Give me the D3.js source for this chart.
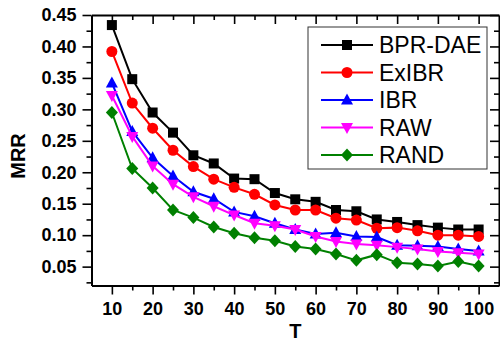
<!DOCTYPE html>
<html>
<head>
<meta charset="utf-8">
<script src="https://cdn.jsdelivr.net/npm/d3@7"></script>
<style>
  body { margin: 0; background: #fff; }
  text { font-family: Arial, "Liberation Sans", sans-serif; }
</style>
</head>
<body>
<svg id="chart" width="500" height="343"></svg>
<script>
// x values (T)
const tValues = [10, 15, 20, 25, 30, 35, 40, 45, 50, 55, 60, 65, 70, 75, 80, 85, 90, 95, 100];

// MRR per method
const bprDae = [0.434, 0.348, 0.295, 0.263, 0.227, 0.214, 0.190, 0.189, 0.167, 0.157, 0.153, 0.140, 0.138, 0.125, 0.121, 0.116, 0.112, 0.109, 0.109];
const exIbr  = [0.392, 0.310, 0.270, 0.235, 0.209, 0.189, 0.176, 0.165, 0.148, 0.140, 0.140, 0.127, 0.124, 0.111, 0.112, 0.107, 0.100, 0.100, 0.098];
const ibr    = [0.342, 0.265, 0.223, 0.194, 0.169, 0.158, 0.137, 0.130, 0.119, 0.109, 0.102, 0.104, 0.098, 0.097, 0.084, 0.083, 0.082, 0.078, 0.075];
const raw    = [0.322, 0.257, 0.210, 0.181, 0.161, 0.146, 0.132, 0.119, 0.115, 0.109, 0.098, 0.090, 0.086, 0.084, 0.081, 0.078, 0.074, 0.072, 0.070];
const rand   = [0.295, 0.206, 0.175, 0.140, 0.128, 0.113, 0.103, 0.096, 0.091, 0.082, 0.078, 0.070, 0.060, 0.069, 0.056, 0.054, 0.051, 0.058, 0.051];

const seriesNames = ["BPR-DAE", "ExIBR", "IBR", "RAW", "RAND"];
const seriesColors = ["#000000", "#ff0000", "#0000ff", "#ff00ff", "#008000"];
const seriesShapes = ["square", "circle", "triangle", "down", "diamond"];
const seriesValues = [bprDae, exIbr, ibr, raw, rand];

const xMajorTicks = d3.range(10, 101, 10);
const xMinorTicks = d3.range(15, 100, 10);
const yMajorTicks = [0.05, 0.10, 0.15, 0.20, 0.25, 0.30, 0.35, 0.40, 0.45];
const yMinorTicks = [0.025, 0.075, 0.125, 0.175, 0.225, 0.275, 0.325, 0.375, 0.425];

const svg = d3.select("#chart");
const plot = {left: 91.5, right: 499, top: 15, bottom: 285.5};

const x = d3.scaleLinear().domain([5, 105]).range([plot.left, plot.right]);
const y = d3.scaleLinear().domain([0.02, 0.45]).range([plot.bottom, plot.top]);

// marker shapes
function marker(g, shape, color) {
  if (shape === "square") {
    g.append("rect").attr("x", -5).attr("y", -5).attr("width", 10).attr("height", 10).attr("fill", color);
  } else if (shape === "circle") {
    g.append("circle").attr("r", 5.5).attr("fill", color);
  } else if (shape === "triangle") {
    g.append("path").attr("d", "M0,-6.5L6,4.5L-6,4.5Z").attr("fill", color);
  } else if (shape === "down") {
    g.append("path").attr("d", "M0,6.5L6,-4.5L-6,-4.5Z").attr("fill", color);
  } else {
    g.append("path").attr("d", "M0,-6.5L6,0L0,6.5L-6,0Z").attr("fill", color);
  }
}

function styleAxis(g) {
  g.select(".domain").attr("stroke", "#000").attr("stroke-width", 2);
  g.selectAll(".tick line").attr("stroke", "#000").attr("stroke-width", 1.6);
  g.selectAll(".tick text").attr("font-size", 18).attr("font-weight", "bold").attr("fill", "#000");
}
function minor(g) {
  g.select(".domain").remove();
  g.selectAll("line").attr("stroke", "#000").attr("stroke-width", 1.6);
}

// bottom + top (top ticks point down, same as bottom)
[plot.bottom, plot.top].forEach((py, k) => {
  const ax = svg.append("g").attr("transform", `translate(0,${py})`)
    .call(d3.axisBottom(x).tickValues(xMajorTicks).tickSize(9).tickSizeOuter(0).tickPadding(8)
      .tickFormat(k === 0 ? d3.format("d") : ""));
  styleAxis(ax);
  svg.append("g").attr("transform", `translate(0,${py})`)
    .call(d3.axisBottom(x).tickValues(xMinorTicks).tickSize(5).tickSizeOuter(0).tickFormat(""))
    .call(minor);
});

// left + right (right ticks point left, same as left)
[plot.left, plot.right].forEach((px, k) => {
  const ax = svg.append("g").attr("transform", `translate(${px},0)`)
    .call(d3.axisLeft(y).tickValues(yMajorTicks).tickSize(9).tickSizeOuter(0).tickPadding(6)
      .tickFormat(k === 0 ? d3.format(".2f") : ""));
  styleAxis(ax);
  svg.append("g").attr("transform", `translate(${px},0)`)
    .call(d3.axisLeft(y).tickValues(yMinorTicks).tickSize(5).tickSizeOuter(0).tickFormat(""))
    .call(minor);
});

// axis titles
svg.append("text")
  .attr("x", (plot.left + plot.right) / 2).attr("y", 338)
  .attr("text-anchor", "middle").attr("font-size", 20).attr("font-weight", "bold")
  .text("T");
svg.append("text")
  .attr("transform", "translate(25,156) rotate(-90)")
  .attr("text-anchor", "middle").attr("font-size", 20).attr("font-weight", "bold")
  .text("MRR");

// series
const line = d3.line().x((d, i) => x(tValues[i])).y(d => y(d));
seriesValues.forEach((vals, si) => {
  const g = svg.append("g");
  g.append("path").datum(vals)
    .attr("d", line).attr("fill", "none")
    .attr("stroke", seriesColors[si]).attr("stroke-width", 2);
  vals.forEach((v, i) => {
    const m = g.append("g").attr("transform", `translate(${x(tValues[i])},${y(v)})`);
    marker(m, seriesShapes[si], seriesColors[si]);
  });
});

// legend
const legend = svg.append("g");
legend.append("rect")
  .attr("x", 308).attr("y", 27).attr("width", 179).attr("height", 142)
  .attr("fill", "#fff").attr("stroke", "#333").attr("stroke-width", 1);
seriesNames.forEach((name, i) => {
  const ly = 45 + i * 27.5;
  legend.append("line").attr("x1", 321).attr("x2", 373).attr("y1", ly).attr("y2", ly)
    .attr("stroke", seriesColors[i]).attr("stroke-width", 2);
  marker(legend.append("g").attr("transform", `translate(347,${ly})`), seriesShapes[i], seriesColors[i]);
  legend.append("text").attr("x", 379).attr("y", ly + 8)
    .attr("font-size", 23).attr("fill", "#000").text(name);
});
</script>
</body>
</html>
